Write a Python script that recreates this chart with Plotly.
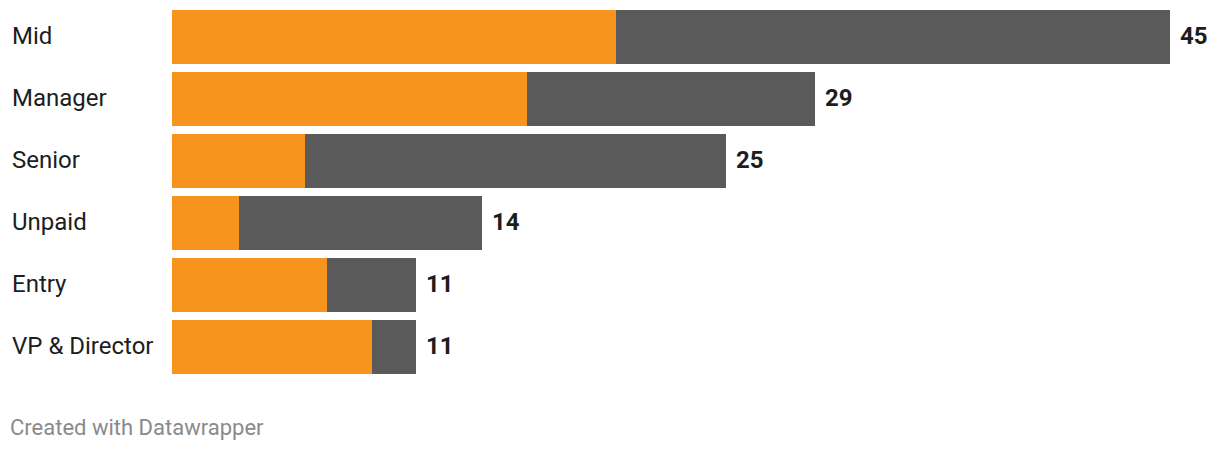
import plotly.graph_objects as go

categories = ["Mid", "Manager", "Senior", "Unpaid", "Entry", "VP & Director"]
orange_vals = [20, 16, 6, 3, 7, 9]
grey_vals = [25, 13, 19, 11, 4, 2]
totals = [45, 29, 25, 14, 11, 11]

fig = go.Figure()
fig.add_trace(go.Bar(y=categories, x=orange_vals, orientation="h",
                     marker=dict(color="#F7941D", line=dict(width=0)), hoverinfo="skip"))
fig.add_trace(go.Bar(y=categories, x=grey_vals, orientation="h",
                     marker=dict(color="#5A5A5A", line=dict(width=0)), hoverinfo="skip"))

for c, t in zip(categories, totals):
    fig.add_annotation(x=t, y=c, text=f"<b>{t}</b>", showarrow=False, xanchor="left",
                       xshift=8, yshift=1, font=dict(family="Roboto", size=24, color="#1d1d1d"))
    fig.add_annotation(x=(10 - 172) / 998, xref="paper", y=c, text=c, showarrow=False,
                       xanchor="left", yshift=1, font=dict(family="Roboto", size=24, color="#1d1d1d"))

fig.add_annotation(x=(8 - 172) / 998, xref="paper", y=(378 - 427) / 372, yref="paper",
                   text="Created with Datawrapper", showarrow=False, xanchor="left",
                   yanchor="middle", font=dict(family="Roboto", size=22, color="#8a8a8a"))

fig.update_layout(
    barmode="stack", bargap=8 / 62, showlegend=False,
    width=1220, height=450,
    margin=dict(l=172, r=50, t=6, b=72, pad=0),
    plot_bgcolor="white", paper_bgcolor="white",
    xaxis=dict(range=[0, 45], visible=False, fixedrange=True),
    yaxis=dict(autorange="reversed", visible=False, fixedrange=True),
)
fig.write_html("out.html", config={"displayModeBar": False, "staticPlot": True},
               post_script="document.body.style.margin='0';")
